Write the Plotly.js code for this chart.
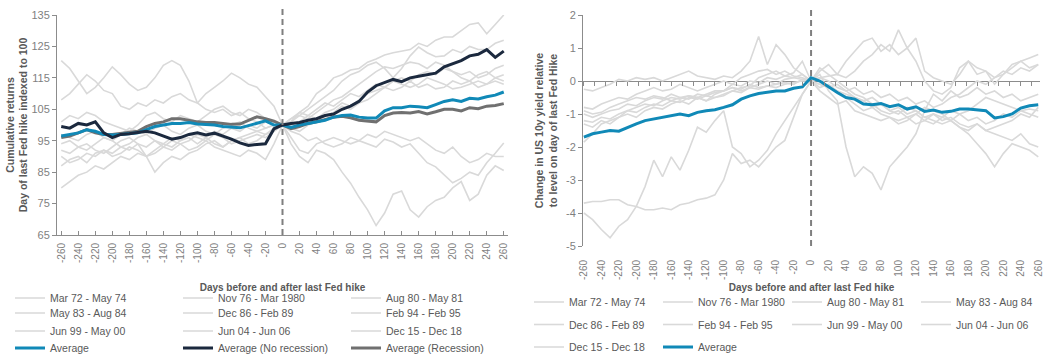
<!DOCTYPE html>
<html><head><meta charset="utf-8">
<script src="https://cdn.plot.ly/plotly-3.0.1.min.js"></script>
<style>html,body{margin:0;padding:0;background:#fff;}#chart{width:1050px;height:358px;}</style>
</head><body><div id="chart"></div>
<script>
// ---- categories (days before/after last Fed hike) ----
const days = [-260,-250,-240,-230,-220,-210,-200,-190,-180,-170,-160,-150,-140,-130,-120,-110,-100,-90,-80,-70,-60,-50,-40,-30,-20,-10,0,10,20,30,40,50,60,70,80,90,100,110,120,130,140,150,160,170,180,190,200,210,220,230,240,250,260];
const tickVals = [-260,-240,-220,-200,-180,-160,-140,-120,-100,-80,-60,-40,-20,0,20,40,60,80,100,120,140,160,180,200,220,240,260];
const tickText = ["-260","-240","-220","-200","-180","-160","-140","-120","-100","-80","-60","-40","-20","0","20","40","60","80","100","120","140","160","180","200","220","240","260"];
const eqTickVals = [65,75,85,95,105,115,125,135];
const eqTickText = ["65","75","85","95","105","115","125","135"];
const ylTickVals = [-5,-4,-3,-2,-1,0,1,2];
const ylTickText = ["-5","-4","-3","-2","-1","0","1","2"];

const cycleNames = ["Mar 72 - May 74","Nov 76 - Mar 1980","Aug 80 - May 81","May 83 - Aug 84","Dec 86 - Feb 89","Feb 94 - Feb 95","Jun 99 - May 00","Jun 04 - Jun 06","Dec 15 - Dec 18"];

// ---- left chart: cumulative equity returns, indexed to 100 on day of last hike ----
const eqMar72 = [120.5,118,114,110,112,115,118.5,116,113,111,112,115,119,120.5,119,114,107,105,104,105,103,104,102,101,99,100,100,
  94,90,88,92,91,89,85,81.5,77,73,68,72,78,79,73,70.7,74,76,77,80,82,76,78,84,87,85.5];
const eqNov76 = [80,82,84,85,87,86,88,90,89,91,90,92,94,93,95,96,94,96,98,97,99,98,100,99,101,100,100,
  101,104,106,110,112,115,116,117.5,118,120,121,122.3,123,123.5,124,126,125,127,128,128,130,132,132.5,129,132,135];
const eqAug80 = [97,96,95,97,98,96,95,97,99,98,97,99,100,98,97,99,100,98,97,99,100,101,99,98,99,100,100,
  98,97,95,96,94,93,94,96,95,97,96,98,97,96,95,96,94,92,91,93,90,88,89,91,90,90];
const eqMay83 = [94,95,93,92,94,96,95,93,94,96,97,95,93,92,94,95,97,96,94,93,95,96,97,98,97,98,100,
  99,98,100,101,103,104,106,105,107,108,110,112,111,112,114,112,113,111.5,112,114,113,114,112,113,114,113];
const eqDec86 = [108,110,113,116,114,111,110,106,105,107,106,108,107,109,110,108,107,110,112,114,116.5,115,113,112,109,106,100,
  101,103,102,104,106,108,109,111,113,115,117,118.5,118,119,120,119.5,118,120,119,117,116,117,115,116,118,119];
const eqFeb94 = [87,89,90,88,91,92,90,91,93,92,90,91,93,95,94,92,93,95,97,96,94,95,96,97,96,98,100,
  102,103,105,107,109,111,114,116,117,119,120,118,115,118,122,124.8,123,121.7,122,124,123,125,124,124,126,127];
const eqJun99 = [101,103,102,104,103,101,100,99,98,100,103,104,102,101,103,102,101,103,105,106,104,103,105,104,102,101,100,
  96,92,91,94,95,96,95,94,95,94,93,95.5,94.6,93,94,91,88,86.7,84,81.6,83,85,84,88,91,94.3];
const eqJun04 = [92,91,93,94,92,91,93,95,96,94,90,85,88,90,89,91,92,94,95,93,95,96,94,95,97,99,100,
  100,101,103,102,104,105,107,106,108,110,111,112,114,115,114,116,117,116,118,117,115,114,116,117,115,116];
const eqDec15 = [90,88,89,91,90,92,91,93,92,94,93,95,94,96,95,97,96,95,93,92,91,90,92,91,89,94,100,
  102,104,103,105,107,106,108,110,109,111,113,112,114,113,112,113,115,114,113,111.5,112,113,114,113,115,114];
const eqAverage = [96.5,97,97.5,98.5,98,97,96.8,97,97.3,97.5,98.5,99.5,100,100.5,100.5,100.8,100.3,100.2,100,99.5,99.3,99.1,99.8,100.5,101.3,100,100,
  99.2,100,100.5,101,101.5,102.5,103,103.2,102.5,102.2,102.2,104.5,105.5,105.5,106,105.8,105.5,106.5,107.5,108,107.5,108.5,108.3,109,109.5,110.5];
const eqAvgNoRec = [99.5,99,100.5,100,101,97.5,96,97,97.2,97.5,98,97.5,96.5,95.5,96,97,97.5,96.8,97.4,96.5,95.5,94.3,93.5,93.8,94,98.8,100,
  100.5,100.8,101.5,102,103,103.5,105,106,107.5,110.5,112.5,113.5,114.5,113.8,115,115.5,116,116.5,118.5,119.5,120.5,122,122.5,124,121.5,123.5];
const eqAvgRec = [96,96.5,97.5,98.5,97.5,97,97,97.3,97.5,98,99.5,100.5,101,102,102,101.5,101,100.8,100.8,100.5,100.2,100.3,101.5,102.6,102,101.2,100,
  98.8,99.5,100.5,101,101.8,102.5,102.8,102.3,101.5,101.3,101,103,103.8,104,103.8,104.3,103.5,104.2,105,105,104.5,105.5,105.2,106,106.2,106.8];

// ---- right chart: change in US 10y yield relative to level on day of last hike ----
const ylMar72 = [-0.25,-0.3,-0.2,-0.1,0.05,0.0,0.1,0.05,0.1,0.0,0.1,0.2,0.3,0.15,0.1,0.05,0.15,0.1,0.3,0.6,1.35,0.5,1.1,0.8,0.4,0.2,0,
  0.1,0.15,0.2,0.1,0.3,0.6,0.8,1.1,0.9,1.55,1.0,1.3,0.3,0.1,0.0,-0.1,0.2,0.6,0.4,0.3,0.1,0.2,0.4,0.6,0.7,0.8];
const ylNov76 = [-4.0,-4.2,-4.5,-4.75,-4.4,-4.2,-3.8,-3.2,-2.4,-2.9,-2.3,-2.7,-2.1,-1.4,-1.55,-1.2,-0.9,-2.0,-2.2,-2.6,-2.4,-2.1,-1.6,-1.2,-0.8,-0.4,0,
  0.3,0.5,0.2,0.6,0.9,1.2,1.3,0.9,1.1,0.8,1.0,0.6,0.0,-0.3,-0.4,-0.2,0.4,0.6,0.2,0.3,-0.1,0.2,0.5,0.6,0.4,0.5];
const ylAug80 = [-3.7,-3.65,-3.65,-3.6,-3.6,-3.75,-3.8,-3.9,-3.9,-3.85,-3.9,-3.75,-3.7,-3.6,-3.55,-3.45,-3.0,-2.2,-2.5,-2.4,-2.6,-2.3,-2.0,-1.8,-1.1,-0.4,0,
  0.2,-0.3,-0.6,-2.0,-2.9,-2.6,-2.8,-3.3,-2.6,-2.3,-2.0,-1.6,-0.9,-0.4,-0.6,-0.3,-0.5,-0.4,-0.2,-0.4,-0.3,-0.5,-0.4,-0.6,-0.5,-0.4];
const ylMay83 = [-1.85,-1.6,-1.3,-1.2,-1.1,-0.9,-0.8,-0.7,-0.75,-0.6,-0.5,-0.55,-0.45,-0.5,-0.4,-0.3,-0.3,-0.2,-0.25,-0.1,-0.2,-0.15,-0.1,-0.05,-0.1,0.05,0,
  -0.3,-0.5,-0.7,-0.6,-0.9,-1.0,-1.1,-1.2,-1.1,-1.3,-1.2,-1.0,-0.8,-0.9,-1.0,-1.2,-1.4,-1.6,-1.9,-2.2,-2.6,-2.2,-1.9,-2.0,-2.1,-2.3];
const ylDec86 = [-0.8,-0.85,-0.7,-0.6,-0.5,-0.55,-0.4,-0.3,-0.2,-0.3,-0.25,-0.1,-0.2,-0.3,-0.2,-0.1,0.0,-0.1,0.1,0.2,0.3,0.35,0.2,0.3,0.15,0.1,0,
  -0.1,-0.2,-0.3,-0.4,-0.5,-0.6,-0.8,-0.7,-0.9,-1.0,-0.8,-0.9,-1.1,-1.0,-1.2,-1.1,-1.3,-1.4,-1.3,-1.5,-1.4,-1.3,-1.2,-1.0,-1.1,-0.8];
const ylFeb94 = [-0.9,-1.0,-0.95,-0.8,-0.7,-0.6,-0.5,-0.55,-0.45,-0.5,-0.6,-0.5,-0.55,-0.4,-0.45,-0.35,-0.3,-0.2,-0.3,-0.2,-0.1,0.0,-0.1,0.05,0.1,0.2,0,
  -0.2,-0.1,-0.3,-0.5,-0.7,-0.9,-0.8,-1.0,-1.1,-1.2,-1.1,-1.3,-1.2,-1.0,-1.1,-0.9,-1.0,-1.2,-1.1,-1.3,-1.2,-1.0,-1.1,-0.9,-1.0,-1.1];
const ylJun99 = [-1.0,-1.1,-1.0,-0.9,-0.85,-0.7,-0.75,-0.6,-0.5,-0.55,-0.4,-0.5,-0.45,-0.5,-0.6,-0.5,-0.45,-0.3,-0.2,-0.15,0.1,0.2,0.3,0.15,0.25,0.6,0,
  0.4,0.2,0.0,-0.2,-0.4,-0.5,-0.7,-0.9,-1.0,-0.9,-1.1,-1.0,-1.2,-1.3,-1.1,-1.2,-1.0,-0.9,-0.7,-0.5,-0.6,-0.7,-0.8,-0.9,-0.85,-0.9];
const ylJun04 = [-1.2,-1.25,-1.1,-1.15,-1.0,-0.9,-0.95,-0.8,-0.7,-0.75,-0.6,-0.65,-0.5,-0.55,-0.45,-0.5,-0.4,-0.3,-0.35,-0.2,-0.25,-0.15,-0.2,-0.1,-0.05,0.0,0,
  0.1,0.0,-0.2,-0.3,-0.5,-0.6,-0.5,-0.7,-0.9,-0.8,-1.0,-0.9,-1.1,-1.2,-1.3,-1.2,-1.4,-1.5,-1.3,-1.5,-1.6,-1.7,-1.8,-1.6,-1.9,-2.0];
const ylDec15 = [-1.3,-1.4,-1.2,-1.3,-1.1,-1.0,-1.1,-0.9,-0.8,-0.85,-0.7,-0.6,-0.7,-0.5,-0.6,-0.4,-0.3,-0.1,-0.15,0.0,-0.05,0.1,0.05,0.15,0.1,0.05,0,
  -0.1,-0.2,-0.1,-0.3,-0.2,-0.4,-0.3,-0.5,-0.4,-0.6,-0.5,-0.7,-0.6,-0.8,-0.7,-0.5,-0.4,-0.2,0.0,-0.1,0.1,0.3,0.2,0.4,0.3,0.5];
const ylAverage = [-1.7,-1.6,-1.55,-1.5,-1.52,-1.4,-1.3,-1.2,-1.15,-1.1,-1.05,-1.0,-1.05,-0.95,-0.9,-0.87,-0.8,-0.72,-0.55,-0.45,-0.38,-0.35,-0.3,-0.3,-0.22,-0.18,0.1,
  0.0,-0.18,-0.35,-0.5,-0.55,-0.7,-0.72,-0.68,-0.78,-0.72,-0.85,-0.78,-0.92,-0.88,-0.95,-0.92,-0.85,-0.85,-0.88,-0.9,-1.12,-1.08,-1.0,-0.82,-0.75,-0.72];

const eqSeries = [eqMar72,eqNov76,eqAug80,eqMay83,eqDec86,eqFeb94,eqJun99,eqJun04,eqDec15];
const ylSeries = [ylMar72,ylNov76,ylAug80,ylMay83,ylDec86,ylFeb94,ylJun99,ylJun04,ylDec15];

// ---- styling ----
const W = 1050, H = 358;
const FONT = "Liberation Sans, Arial, sans-serif";
const LIGHT = "#d9d9d9", BLUE = "#1089b7", NAVY = "#1b293e", DGREY = "#707070";
const AXC = "#8c8c8c", TXT = "#595959", TICKTXT = "#7f7f7f";
const px = v => v / W, py = v => 1 - v / H;

const leftX = [px(57), px(508)], leftY = [py(235), py(15)];
const rightX = [px(583), px(1040)], rightY = [py(246), py(15)];
const leftLegends = ['legend','legend2','legend3','legend4'];
const rightLegends = ['legend5','legend6','legend7'];

const traces = [];
cycleNames.forEach((name, i) => {
  traces.push({x: days, y: eqSeries[i], name: name, type: 'scatter', mode: 'lines',
    line: {color: LIGHT, width: 1.6}, xaxis: 'x', yaxis: 'y', legend: leftLegends[Math.floor(i/3)], hoverinfo: 'skip'});
});
traces.push({x: days, y: eqAvgRec, name: 'Average (Recession)', type: 'scatter', mode: 'lines',
  line: {color: DGREY, width: 3}, xaxis: 'x', yaxis: 'y', legend: 'legend4', legendrank: 3});
traces.push({x: days, y: eqAverage, name: 'Average', type: 'scatter', mode: 'lines',
  line: {color: BLUE, width: 3}, xaxis: 'x', yaxis: 'y', legend: 'legend4', legendrank: 1});
traces.push({x: days, y: eqAvgNoRec, name: 'Average (No recession)', type: 'scatter', mode: 'lines',
  line: {color: NAVY, width: 3}, xaxis: 'x', yaxis: 'y', legend: 'legend4', legendrank: 2});

cycleNames.forEach((name, i) => {
  traces.push({x: days, y: ylSeries[i], name: name, type: 'scatter', mode: 'lines',
    line: {color: LIGHT, width: 1.6}, xaxis: 'x2', yaxis: 'y2', legend: rightLegends[Math.floor(i/4)], hoverinfo: 'skip'});
});
traces.push({x: days, y: ylAverage, name: 'Average', type: 'scatter', mode: 'lines',
  line: {color: BLUE, width: 3}, xaxis: 'x2', yaxis: 'y2', legend: 'legend7'});
// empty trace to carry the tick axis sitting on the zero line
traces.push({x: [], y: [], xaxis: 'x3', yaxis: 'y2', showlegend: false, hoverinfo: 'skip', type: 'scatter', mode: 'lines'});

function leg(xPx, yPx, ew) {
  return {orientation: 'h', x: px(xPx), y: py(yPx), xanchor: 'left', yanchor: 'middle',
    entrywidth: ew, entrywidthmode: 'pixels', bgcolor: 'rgba(0,0,0,0)', borderwidth: 0,
    font: {family: FONT, size: 10.5, color: TXT}, itemclick: false, itemdoubleclick: false};
}

const yZeroPos = rightY[0] + (0 - (-5)) / 7 * (rightY[1] - rightY[0]);

const layout = {
  width: W, height: H, margin: {l: 0, r: 0, t: 0, b: 0, autoexpand: false}, paper_bgcolor: '#fff', plot_bgcolor: 'rgba(0,0,0,0)',
  font: {family: FONT, color: TICKTXT, size: 10},
  xaxis: {domain: leftX, anchor: 'y', range: [-265, 265], tickmode: 'array', tickvals: tickVals, ticktext: tickText,
    tickangle: -90, tickfont: {size: 10, color: TICKTXT}, showline: true, linecolor: AXC, linewidth: 1,
    ticks: 'inside', ticklen: 4, tickcolor: AXC, ticklabelstandoff: 3, showgrid: false, zeroline: false, automargin: false,
    title: {text: 'Days before and after last Fed hike', font: {size: 10, color: TXT, weight: 'bold'}, standoff: 21}},
  yaxis: {domain: leftY, anchor: 'x', range: [65, 135], tickmode: 'array', tickvals: eqTickVals, ticktext: eqTickText,
    tickfont: {size: 11, color: TICKTXT}, showline: true, linecolor: AXC, linewidth: 1, ticks: 'outside', ticklen: 4,
    tickcolor: AXC, showgrid: false, zeroline: false, automargin: false,
    title: {text: 'Cumulative returns<br>Day of last Fed hike indexed to 100', font: {size: 10.5, color: TXT, weight: 'bold'}, standoff: 1}},
  xaxis2: {domain: rightX, anchor: 'y2', range: [-261, 262], tickmode: 'array', tickvals: tickVals, ticktext: tickText,
    tickangle: -90, tickfont: {size: 10, color: TICKTXT}, showline: false, ticks: '', ticklabelstandoff: 11,
    showgrid: false, zeroline: false, automargin: false,
    title: {text: 'Days before and after last Fed hike', font: {size: 10, color: TXT, weight: 'bold'}, standoff: 4}},
  xaxis3: {overlaying: 'x2', anchor: 'free', position: yZeroPos, side: 'bottom', range: [-261, 262],
    tickmode: 'linear', tick0: -260, dtick: 12.5, ticks: 'outside', ticklen: 4, tickcolor: AXC,
    showticklabels: false, showline: false, showgrid: false, zeroline: false, automargin: false},
  yaxis2: {domain: rightY, anchor: 'x2', range: [-5, 2], tickmode: 'array', tickvals: ylTickVals, ticktext: ylTickText,
    tickfont: {size: 11, color: TICKTXT}, showline: true, linecolor: AXC, linewidth: 1, ticks: 'outside', ticklen: 4,
    tickcolor: AXC, showgrid: false, zeroline: true, zerolinecolor: AXC, zerolinewidth: 1, automargin: false,
    title: {text: 'Change in US 10y yield relative<br>to level on day of last Fed Hike', font: {size: 10.5, color: TXT, weight: 'bold'}, standoff: 6}},
  shapes: [
    {type: 'line', xref: 'x', yref: 'paper', x0: 0, x1: 0, y0: py(235), y1: py(7), line: {color: '#7f7f7f', width: 2, dash: '6px,4px'}},
    {type: 'line', xref: 'x2', yref: 'paper', x0: 0, x1: 0, y0: py(246), y1: py(7), line: {color: '#7f7f7f', width: 2, dash: '6px,4px'}}
  ],
  legend: leg(10, 298, 123), legend2: leg(10, 313, 123), legend3: leg(10, 331, 123), legend4: leg(10, 348, 123),
  legend5: leg(529, 302, 84), legend6: leg(529, 324.5, 84), legend7: leg(529, 347, 84),
  showlegend: true
};

Plotly.newPlot('chart', traces, layout, {displayModeBar: false, staticPlot: true});
</script></body></html>
